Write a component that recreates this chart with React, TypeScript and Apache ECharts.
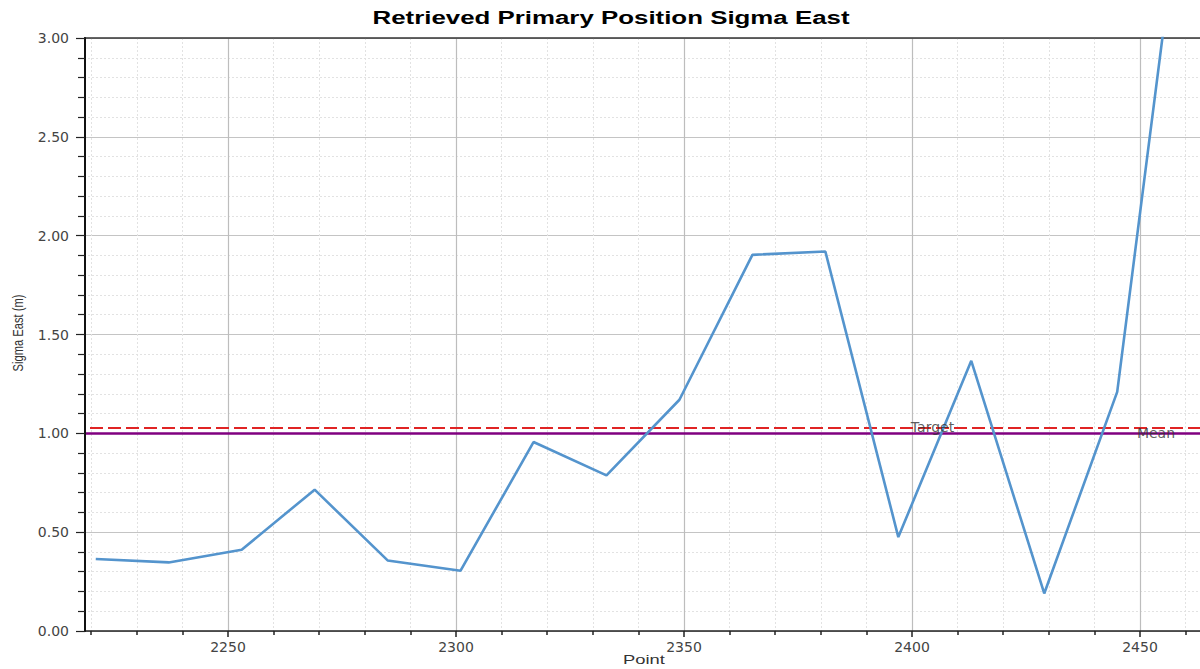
import React, { useEffect, useRef } from "react";
import * as echarts from "echarts";

// ---- data ----
const POINTS = [2221, 2237, 2253, 2269, 2285, 2301, 2317, 2333, 2349, 2365, 2381, 2397, 2413, 2429, 2445, 2461];
const SIGMA_EAST = [0.364, 0.347, 0.411, 0.715, 0.357, 0.305, 0.956, 0.787, 1.17, 1.903, 1.92, 0.475, 1.367, 0.19, 1.21, 4.1];
const TARGET = 1.03;
const MEAN = 1.0;
const REF_LABELS = ["Target", "Mean"];
const REF_LABEL_X = [2404.5, 2453.5];
const REF_LABEL_Y = [TARGET, MEAN];

const X_AXIS_MIN = 2200;
const X_AXIS_MAX = 2500;
const X_VIEW_MIN = 2218.7;
const X_VIEW_MAX = 2463.2;
const X_INTERVAL = 50;
const Y_MIN = 0;
const Y_MAX = 3;
const Y_INTERVAL = 0.5;

const TITLE = "Retrieved Primary Position Sigma East";
const X_NAME = "Point";
const Y_NAME = "Sigma East (m)";

const FONT = "'Liberation Sans', Arial, sans-serif";
const LABEL_FONT = "'DejaVu Sans', sans-serif";

export default function App() {
  const ref = useRef<HTMLDivElement>(null);
  useEffect(() => {
    if (!ref.current) return;
    const chart = echarts.init(ref.current, undefined, { renderer: "svg" });
    const lineData = POINTS.map((x, i) => [x, SIGMA_EAST[i]]);
    const labelData = REF_LABELS.map((n, i) => ({ name: n, value: [REF_LABEL_X[i], REF_LABEL_Y[i]] }));

    const minorSplit = { show: true, lineStyle: { color: "#e2e2e2", type: [2, 2], width: 1 } };

    chart.setOption({
      animation: false,
      backgroundColor: "#ffffff",
      grid: { left: 0, right: -168, top: 38, bottom: 38, outerBoundsMode: "none", containLabel: false },
      xAxis: [
        {
          type: "value",
          min: X_AXIS_MIN,
          max: X_AXIS_MAX,
          interval: X_INTERVAL,
          position: "bottom",
          z: 0,
          axisLine: { show: true, onZero: false, lineStyle: { color: "#222", width: 1.5 } },
          axisTick: { show: true, length: 6, lineStyle: { color: "#222", width: 1.5 } },
          minorTick: { show: true, splitNumber: 5, length: 4, lineStyle: { color: "#222", width: 1.5 } },
          axisLabel: {
            color: "#444",
            fontFamily: LABEL_FONT,
            fontSize: 14,
            margin: 9,
            formatter: (v: number) => (v > X_VIEW_MIN && v < X_VIEW_MAX ? String(v) : ""),
          },
          splitLine: { show: true, lineStyle: { color: "#bdbdbd", width: 1.2 } },
          minorSplitLine: minorSplit,
        },
        {
          type: "value",
          min: X_AXIS_MIN,
          max: X_AXIS_MAX,
          interval: X_INTERVAL,
          position: "top",
          z: 0,
          axisLine: { show: true, onZero: false, lineStyle: { color: "#333", width: 1.5 } },
          axisTick: { show: false },
          axisLabel: { show: false },
          splitLine: { show: false },
        },
      ],
      yAxis: [
        {
          type: "value",
          min: Y_MIN,
          max: Y_MAX,
          interval: Y_INTERVAL,
          position: "left",
          offset: -85,
          z: 7,
          axisLine: { show: true, onZero: false, lineStyle: { color: "#111", width: 2 } },
          axisTick: { show: true, length: 9, lineStyle: { color: "#222", width: 1.2 } },
          minorTick: { show: true, splitNumber: 5, length: 7, lineStyle: { color: "#222", width: 1.2 } },
          axisLabel: {
            color: "#444",
            fontFamily: LABEL_FONT,
            fontSize: 14,
            margin: 16,
            formatter: (v: number) => v.toFixed(2),
          },
          splitLine: { show: false },
          minorSplitLine: { show: false },
        },
        {
          type: "value",
          min: Y_MIN,
          max: Y_MAX,
          interval: Y_INTERVAL,
          position: "left",
          z: 0,
          axisLine: { show: false },
          axisTick: { show: false },
          minorTick: { show: false, splitNumber: 5 },
          axisLabel: { show: false },
          splitLine: { show: true, lineStyle: { color: "#c4c4c4", width: 1 } },
          minorSplitLine: minorSplit,
        },
      ],
      series: [
        {
          type: "line",
          xAxisIndex: 0,
          yAxisIndex: 0,
          data: lineData,
          symbol: "none",
          clip: true,
          z: 2,
          lineStyle: { color: "#5494cd", width: 2.6 },
          markLine: {
            silent: true,
            symbol: "none",
            z: 2,
            label: { show: false },
            data: [
              { yAxis: TARGET, lineStyle: { color: "#e02424", type: [13, 5], width: 2 } },
              { yAxis: MEAN, lineStyle: { color: "#800080", type: "solid", width: 2.6 } },
            ],
          },
        },
        {
          type: "scatter",
          xAxisIndex: 0,
          yAxisIndex: 0,
          data: labelData,
          symbolSize: 1,
          z: 3,
          itemStyle: { color: "rgba(0,0,0,0)" },
          label: {
            show: true,
            position: "inside",
            formatter: (p: any) => p.name,
            color: "#333",
            fontFamily: LABEL_FONT,
            fontSize: 14,
          },
          labelLayout: { hideOverlap: false },
        },
      ],
      graphic: [
        {
          type: "rect",
          z: 6,
          shape: { x: 0, y: 0, width: 84, height: 669 },
          style: { fill: "#ffffff" },
          silent: true,
        },
        {
          type: "text",
          z: 10,
          x: 611,
          y: 18,
          scaleX: 1.47,
          style: {
            text: TITLE,
            x: 0,
            y: 0,
            textAlign: "center",
            textVerticalAlign: "middle",
            font: `bold 17.6px ${FONT}`,
            fill: "#000",
          },
        },
        {
          type: "text",
          z: 10,
          x: 644,
          y: 660,
          scaleX: 1.47,
          style: {
            text: X_NAME,
            x: 0,
            y: 0,
            textAlign: "center",
            textVerticalAlign: "middle",
            font: `12.5px ${FONT}`,
            fill: "#333",
          },
        },
        {
          type: "text",
          z: 10,
          x: 18,
          y: 333,
          rotation: Math.PI / 2,
          scaleY: 1.3,
          style: {
            text: Y_NAME,
            x: 0,
            y: 0,
            textAlign: "center",
            textVerticalAlign: "middle",
            font: `11.2px ${FONT}`,
            fill: "#333",
          },
        },
      ],
    });
    return () => chart.dispose();
  }, []);
  return (
    <div
      ref={ref}
      style={{ position: "absolute", left: 0, top: 0, width: 1200, height: 669, background: "#fff" }}
    />
  );
}
